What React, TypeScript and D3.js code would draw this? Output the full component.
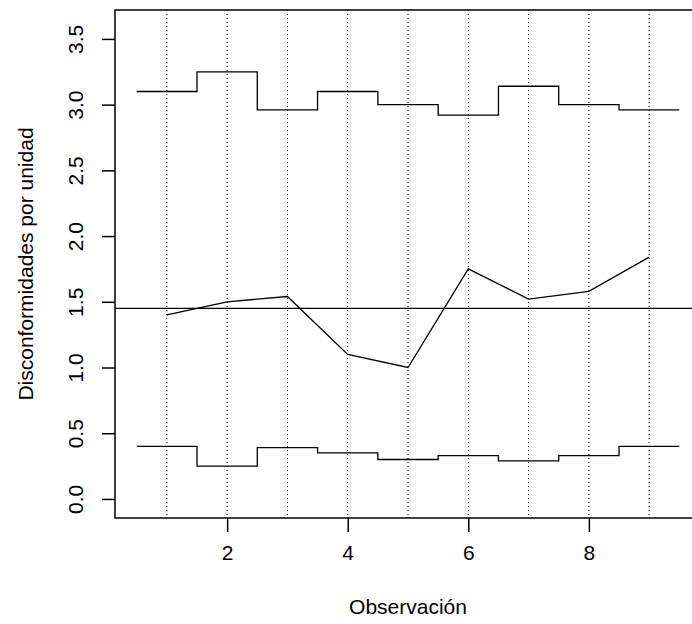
import React, { useEffect, useRef } from "react";
import * as d3 from "d3";

// u chart: disconformidades por unidad
const observaciones = [1, 2, 3, 4, 5, 6, 7, 8, 9];
const u = [1.4, 1.5, 1.54, 1.1, 1.0, 1.75, 1.52, 1.58, 1.84];
const lcs = [3.1, 3.25, 2.96, 3.1, 3.0, 2.92, 3.14, 3.0, 2.96];
const lci = [0.4, 0.25, 0.39, 0.35, 0.3, 0.33, 0.29, 0.33, 0.4];
const lineaCentral = 1.45;
const xTicks = [2, 4, 6, 8];
const yTicks = [0, 0.5, 1, 1.5, 2, 2.5, 3, 3.5];

const FONT = "'Liberation Sans', Arial, Helvetica, sans-serif";
const FS = 21;

export default function App() {
  const ref = useRef<SVGSVGElement>(null);

  useEffect(() => {
    const svg = d3.select(ref.current);
    svg.selectAll("*").remove();

    const left = 115, right = 701, top = 10, bottom = 518;

    const x = d3.scaleLinear().domain([0.14, 9.86]).range([left, right]);
    const y = d3.scaleLinear().domain([-0.145, 3.72]).range([bottom, top]);

    // dotted verticals at each observation
    svg.selectAll(".vline")
      .data(observaciones)
      .enter()
      .append("line")
      .attr("x1", d => x(d))
      .attr("x2", d => x(d))
      .attr("y1", top)
      .attr("y2", bottom)
      .attr("stroke", "#000")
      .attr("stroke-width", 1)
      .attr("stroke-dasharray", "1,3");

    // center line
    svg.append("line")
      .attr("x1", left)
      .attr("x2", right)
      .attr("y1", y(lineaCentral))
      .attr("y2", y(lineaCentral))
      .attr("stroke", "#000")
      .attr("stroke-width", 1.3);

    const line = d3.line<[number, number]>()
      .x(d => x(d[0]))
      .y(d => y(d[1]));

    const steps = (vals: number[]) =>
      observaciones.flatMap((o, i) => [[o - 0.5, vals[i]], [o + 0.5, vals[i]]] as [number, number][]);

    [lcs, lci].forEach(vals => {
      svg.append("path")
        .attr("d", line(steps(vals)))
        .attr("fill", "none")
        .attr("stroke", "#000")
        .attr("stroke-width", 1.3);
    });

    svg.append("path")
      .attr("d", line(observaciones.map((o, i) => [o, u[i]] as [number, number])))
      .attr("fill", "none")
      .attr("stroke", "#000")
      .attr("stroke-width", 1.3);

    // box
    svg.append("rect")
      .attr("x", left)
      .attr("y", top)
      .attr("width", right - left)
      .attr("height", bottom - top)
      .attr("fill", "none")
      .attr("stroke", "#000")
      .attr("stroke-width", 1.5);

    // x axis
    const gx = svg.append("g")
      .attr("transform", `translate(0, ${bottom})`)
      .call(d3.axisBottom(x).tickValues(xTicks).tickSize(14).tickPadding(13).tickFormat(d3.format("d")));
    gx.select(".domain").remove();
    gx.selectAll("line").attr("stroke-width", 1.5);
    gx.selectAll("text").attr("font-size", FS).attr("font-family", FONT).attr("fill", "#000");

    // y axis
    const gy = svg.append("g")
      .attr("transform", `translate(${left}, 0)`)
      .call(d3.axisLeft(y).tickValues(yTicks).tickSize(13).tickFormat(d3.format(".1f")));
    gy.select(".domain").remove();
    gy.selectAll("line").attr("stroke-width", 1.5);
    gy.selectAll("text")
      .attr("x", null)
      .attr("dy", null)
      .attr("text-anchor", "middle")
      .attr("transform", "translate(-32, 0) rotate(-90)")
      .attr("font-size", FS)
      .attr("font-family", FONT)
      .attr("fill", "#000");

    // titles
    svg.append("text")
      .attr("x", (left + right) / 2)
      .attr("y", 614)
      .attr("text-anchor", "middle")
      .attr("font-size", FS)
      .attr("font-family", FONT)
      .text("Observación");

    svg.append("text")
      .attr("transform", `translate(33, ${(top + bottom) / 2}) rotate(-90)`)
      .attr("text-anchor", "middle")
      .attr("font-size", FS)
      .attr("font-family", FONT)
      .text("Disconformidades por unidad");
  }, []);

  return (
    <svg
      ref={ref}
      width={692}
      height={624}
      style={{ position: "absolute", left: 0, top: 0, background: "#fff" }}
    />
  );
}
